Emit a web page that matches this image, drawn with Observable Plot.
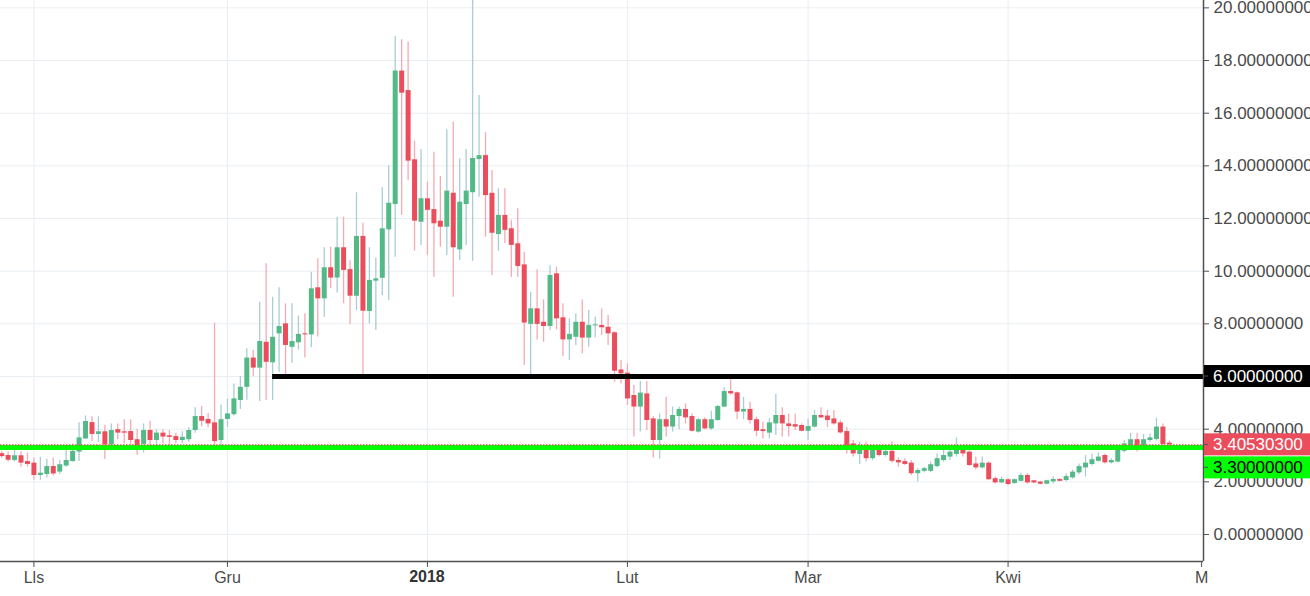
<!DOCTYPE html>
<html><head><meta charset="utf-8">
<script src="https://cdn.jsdelivr.net/npm/d3@7"></script>
<script src="https://cdn.jsdelivr.net/npm/@observablehq/plot@0.6"></script>
<style>
html,body{margin:0;padding:0;background:#fff;overflow:hidden}
#chart svg{display:block}
</style>
</head><body><div id="chart"></div>
<script>
// ---- data ----
const startDate = "2017-10-27";           // first daily candle
// [open, high, low, close] one per day
const ohlc = [
 [3.07,3.15,2.90,2.96],[3.00,3.13,2.75,2.82],[2.81,3.23,2.75,2.99],[2.99,3.14,2.56,2.71],[2.77,3.09,2.56,2.66],
 [2.71,2.90,2.06,2.24],[2.24,2.93,2.06,2.33],[2.28,2.86,2.15,2.58],[2.58,2.90,2.22,2.30],[2.37,2.81,2.28,2.65],
 [2.60,3.33,2.55,2.81],[2.77,3.44,2.75,3.16],[3.13,4.24,2.77,3.67],[3.63,4.50,3.60,4.29],[4.25,4.47,3.53,3.80],
 [3.80,4.47,3.50,3.90],[3.90,4.15,2.85,3.40],[3.40,4.20,3.38,3.95],[3.98,4.20,3.60,3.85],[3.90,4.36,3.45,3.85],
 [3.91,4.36,3.30,3.57],[3.60,4.00,3.00,3.34],[3.42,4.20,3.10,3.95],[3.95,4.30,3.38,3.57],[3.57,3.98,3.36,3.85],
 [3.85,3.98,3.45,3.70],[3.75,3.95,3.36,3.69],[3.72,3.85,3.45,3.57],[3.57,3.90,3.45,3.69],[3.60,4.05,3.50,3.95],
 [3.95,4.81,3.85,4.48],[4.48,4.86,4.08,4.30],[4.37,4.60,4.05,4.20],[4.24,8.03,3.30,3.53],[3.57,4.92,3.20,4.36],
 [4.37,5.15,4.07,4.58],[4.55,5.72,4.50,5.15],[5.09,6.00,4.75,5.59],[5.59,7.05,5.10,6.70],[6.70,6.99,6.00,6.32],
 [6.32,8.82,5.05,7.33],[7.30,10.28,5.09,6.54],[6.52,9.01,5.09,7.49],[7.62,9.37,6.16,7.90],[8.00,8.76,6.00,7.18],
 [7.11,8.76,6.50,7.33],[7.28,8.30,7.00,7.60],[7.62,8.38,6.70,7.58],[7.58,9.96,7.10,9.33],[9.37,10.47,7.50,8.95],
 [8.95,10.89,8.25,10.13],[10.13,10.91,9.33,9.74],[9.74,12.05,9.17,10.89],[10.89,12.05,8.76,10.03],[10.06,10.40,7.98,9.05],
 [9.05,12.98,8.50,11.32],[11.32,11.82,5.97,8.48],[8.47,10.89,8.00,9.65],[9.62,10.50,7.75,9.71],[9.73,13.17,9.08,11.61],
 [11.57,14.00,8.89,12.58],[12.53,18.91,10.53,17.60],[17.60,18.79,12.12,16.76],[16.86,18.70,13.44,14.18],[14.23,14.94,10.76,11.90],
 [11.86,14.62,10.98,12.75],[12.75,13.38,10.60,12.31],[12.34,14.52,9.77,11.80],[11.90,13.60,10.91,11.67],[11.67,15.37,10.60,13.04],
 [12.96,15.66,9.01,10.89],[10.81,14.27,10.41,12.62],[12.53,14.62,10.98,13.04],[12.98,20.60,10.38,14.28],[14.24,16.67,12.81,14.39],
 [14.39,15.26,11.29,12.87],[12.96,13.82,9.84,11.44],[11.39,13.13,10.76,12.12],[12.12,13.13,11.04,11.55],[11.61,11.93,9.77,10.98],
 [11.04,12.37,9.77,10.18],[10.24,10.72,6.42,8.03],[7.98,9.20,5.91,8.57],[8.57,10.05,7.39,7.98],[8.06,8.91,7.30,7.90],
 [7.90,10.22,7.75,9.84],[9.90,10.15,7.77,8.19],[8.23,8.76,6.76,7.39],[7.39,8.19,6.61,7.60],[7.49,8.38,7.18,8.06],
 [8.06,8.91,6.86,7.46],[7.46,8.51,7.11,7.94],[7.92,8.25,7.46,7.96],[7.94,8.57,7.56,7.85],[7.87,8.32,7.18,7.62],
 [7.66,7.70,5.78,6.20],[6.25,6.61,5.72,6.10],[6.13,6.48,4.90,5.15],[5.28,5.66,3.70,4.84],[4.84,5.81,3.89,5.37],
 [5.34,5.81,3.95,4.33],[4.39,4.48,2.91,3.57],[3.57,4.58,2.87,4.36],[4.36,5.21,3.70,4.08],[4.08,4.84,3.89,4.52],
 [4.48,4.84,3.98,4.75],[4.75,4.96,4.20,4.43],[4.48,4.58,3.89,3.92],[3.89,4.40,3.85,4.36],[4.36,4.43,3.98,4.01],
 [4.01,4.68,3.95,4.36],[4.33,4.91,4.30,4.86],[4.84,5.57,4.82,5.43],[5.43,6.00,5.30,5.34],[5.38,5.41,4.36,4.65],
 [4.65,5.21,4.36,4.75],[4.75,5.02,4.20,4.33],[4.36,4.46,3.72,3.92],[3.98,4.27,3.63,3.91],[3.85,4.40,3.63,4.24],
 [4.20,5.32,3.76,4.52],[4.52,4.81,3.70,4.20],[4.20,4.58,3.70,4.10],[4.17,4.58,3.95,4.08],[4.14,4.20,3.90,3.92],
 [3.92,4.39,3.57,4.10],[4.08,4.71,4.05,4.52],[4.52,4.81,4.40,4.43],[4.50,4.71,4.06,4.33],[4.39,4.71,4.15,4.20],
 [4.24,4.33,3.82,3.86],[3.91,4.07,3.06,3.38],[3.44,3.57,2.94,3.06],[3.04,3.51,2.66,3.19],[3.22,3.51,2.75,2.88],
 [2.88,3.38,2.81,3.25],[3.22,3.38,2.94,3.00],[3.00,3.35,2.94,3.15],[3.16,3.51,2.72,2.78],[2.81,2.91,2.56,2.72],
 [2.77,2.88,2.62,2.66],[2.71,2.81,2.24,2.31],[2.31,2.50,1.99,2.43],[2.40,2.56,2.35,2.50],[2.40,2.75,2.35,2.65],
 [2.58,3.06,2.53,2.88],[2.81,3.22,2.75,3.00],[2.94,3.38,2.81,3.13],[3.04,3.67,2.94,3.22],[3.22,3.32,2.94,3.06],
 [3.13,3.18,2.58,2.62],[2.68,2.94,2.45,2.53],[2.53,2.94,2.50,2.71],[2.71,2.75,2.06,2.08],[2.12,2.18,1.92,1.96],
 [1.96,2.18,1.94,2.09],[2.08,2.12,1.85,1.90],[1.94,2.12,1.90,2.08],[2.02,2.34,1.98,2.24],[2.24,2.31,1.91,1.96],
 [2.04,2.05,1.93,1.96],[1.99,2.02,1.89,1.91],[1.91,2.06,1.89,2.04],[2.00,2.18,1.92,2.09],[2.09,2.12,2.00,2.02],
 [2.05,2.30,2.00,2.20],[2.15,2.45,2.10,2.37],[2.34,2.68,2.28,2.58],[2.53,3.00,2.18,2.71],[2.66,3.06,2.60,2.84],
 [2.78,3.10,2.75,2.94],[3.00,3.06,2.68,2.72],[2.72,2.88,2.68,2.81],[2.75,3.25,2.72,3.19],[3.16,3.57,3.10,3.44],
 [3.38,3.85,3.30,3.60],[3.60,3.85,3.13,3.31],[3.38,3.80,3.32,3.60],[3.57,3.82,3.50,3.67],[3.61,4.42,3.55,4.08],
 [4.08,4.20,3.32,3.42],[3.47,3.55,3.38,3.4053]
];
const monthTicks = ["2017-11-01","2017-12-01","2018-01-01","2018-02-01","2018-03-01","2018-04-01","2018-05-01"];
const monthLabels = ["Lls","Gru","2018","Lut","Mar","Kwi","M"];
const yTicks = [0,2,4,6,8,10,12,14,16,18,20];
const resistanceLevel = 6;
const resistanceFrom = "2017-12-08";
const supportLevel = 3.3;
const lastPrice = 3.405303;

// ---- build ----
const t0 = new Date(startDate + "T00:00Z");
const candles = ohlc.map(([o,h,l,c], i) => ({date: d3.utcDay.offset(t0, i), o, h, l, c, up: c >= o}));
const up = candles.filter(d => d.up), down = candles.filter(d => !d.up);
const monthDates = monthTicks.map(s => new Date(s + "T00:00Z"));
const labelOf = new Map(monthDates.map((d, i) => [+d, monthLabels[i]]));
const xDomain = [new Date("2017-10-26T19:40Z"), new Date("2018-05-01T07:00Z")];
const yDomain = [-1.025, 20.28];
const GREEN = "#53b987", RED = "#eb4d5c";
const font = "Arial, 'Liberation Sans', Helvetica, sans-serif";

const chart = Plot.plot({
  width: 1310, height: 596,
  marginLeft: 0, marginRight: 107, marginTop: 0, marginBottom: 35,
  x: {type: "utc", domain: xDomain},
  y: {domain: yDomain},
  style: {fontFamily: font, background: "#fff", color: "#4a4a4a", overflow: "hidden"},
  marks: [
    Plot.ruleX(monthDates.slice(0, -1), {stroke: "#e9eef2", strokeWidth: 1}),
    Plot.ruleY(yTicks, {stroke: "#e9eef2", strokeWidth: 1}),
    Plot.ruleX(up, {x: "date", y1: "l", y2: "h", stroke: "#a9cdd4", strokeWidth: 1.3}),
    Plot.ruleX(down, {x: "date", y1: "l", y2: "h", stroke: "#f6a9b1", strokeWidth: 1.3}),
    Plot.ruleX(up, {x: "date", y1: "o", y2: "c", stroke: GREEN, strokeWidth: 5}),
    Plot.ruleX(down, {x: "date", y1: "o", y2: "c", stroke: RED, strokeWidth: 5}),
    Plot.ruleY([supportLevel], {stroke: "#00ff00", strokeWidth: 5}),
    Plot.ruleY([lastPrice], {stroke: RED, strokeWidth: 1.2, strokeDasharray: "1.5,1.5"}),
    Plot.ruleY([resistanceLevel], {x1: new Date(resistanceFrom + "T00:00Z"), x2: xDomain[1], stroke: "#000", strokeWidth: 5}),
    Plot.ruleY([yDomain[0]], {stroke: "#505050", strokeWidth: 1.5}),
    Plot.ruleX([xDomain[1]], {stroke: "#505050", strokeWidth: 1.5}),
    Plot.axisX({ticks: monthDates, tickSize: 6, tickPadding: 4, fontSize: 16, stroke: "#505050",
      tickFormat: d => (labelOf.get(+d) === "2018" ? "" : labelOf.get(+d))}),
    Plot.axisY({anchor: "right", ticks: yTicks, tickSize: 5, tickPadding: 5, fontSize: 17, stroke: "#505050",
      tickFormat: d => (d === resistanceLevel ? "" : d.toFixed(8))}),
  ]
});
document.getElementById("chart").appendChild(chart);

// bold "2018" label and the right-hand price boxes, placed with the chart's own scales
const sx = chart.scale("x"), sy = chart.scale("y");
const svg = d3.select(chart);
const d2018 = monthDates[monthLabels.indexOf("2018")];
svg.append("text").attr("x", sx.apply(d2018)).attr("y", sy.apply(yDomain[0]) + 10).attr("dy", "0.71em")
  .attr("text-anchor", "middle").attr("font-size", 16).attr("font-weight", "bold").attr("fill", "#333")
  .attr("font-family", font).text("2018");

const xr = sx.apply(xDomain[1]);
const boxH = 22;
function box(cy, fill, color, label) {
  svg.append("rect").attr("x", xr + 1).attr("y", cy - boxH / 2).attr("width", 1310 - xr).attr("height", boxH).attr("fill", fill);
  svg.append("line").attr("x1", xr).attr("x2", xr + 5).attr("y1", cy).attr("y2", cy).attr("stroke", "#505050");
  svg.append("text").attr("x", xr + 10).attr("y", cy).attr("dy", "0.36em").attr("font-size", 17)
    .attr("text-anchor", "start").attr("font-family", font).attr("fill", color).text(label);
}
const yRed = sy.apply(lastPrice);
box(sy.apply(resistanceLevel), "#000", "#fff", resistanceLevel.toFixed(8));
box(yRed, RED, "#fff", lastPrice.toFixed(8));
box(yRed + boxH + 1, "#00ff00", "#000", supportLevel.toFixed(8));
</script>
</body></html>
